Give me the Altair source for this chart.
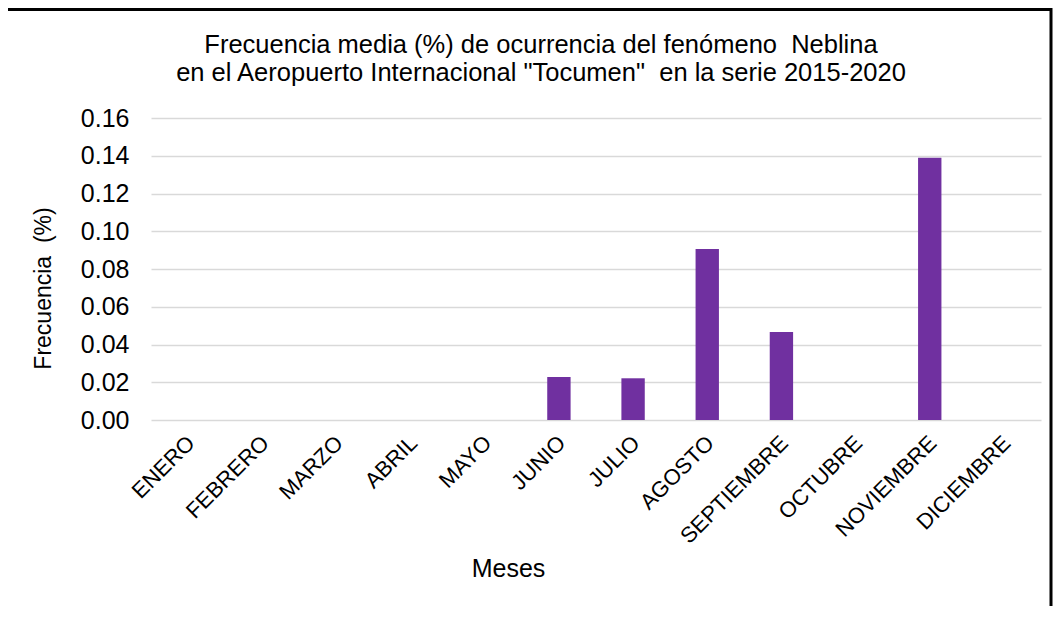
import altair as alt
import pandas as pd

meses = ["ENERO", "FEBRERO", "MARZO", "ABRIL", "MAYO", "JUNIO", "JULIO",
         "AGOSTO", "SEPTIEMBRE", "OCTUBRE", "NOVIEMBRE", "DICIEMBRE"]
frecuencia = [0.0, 0.0, 0.0, 0.0, 0.0, 0.0228, 0.0221, 0.0906, 0.0466, 0.0, 0.1389, 0.0]
y_ticks = [0.0, 0.02, 0.04, 0.06, 0.08, 0.10, 0.12, 0.14, 0.16]
titulo = ["Frecuencia media (%) de ocurrencia del fenómeno\u00a0 Neblina",
          "en el Aeropuerto Internacional \"Tocumen\"\u00a0 en la serie 2015-2020"]

df = pd.DataFrame({"Mes": meses, "Frecuencia": frecuencia})

FONT = "Liberation Sans"

bars = alt.Chart(df).mark_bar(color="#7030A0").encode(
    x=alt.X("Mes:N", sort=meses,
            scale=alt.Scale(paddingInner=0.685, paddingOuter=0.3425),
            axis=alt.Axis(title="Meses", labelAngle=-45, labelFontSize=22,
                          labelFont=FONT, labelColor="#000000", labelPadding=12,
                          labelOffset=-4,
                          titleFont=FONT, titleFontSize=25, titleFontWeight="normal",
                          titleColor="#000000", titleX=357, titleY=148,
                          titleBaseline="middle", titleAlign="center",
                          ticks=False, domain=False, grid=False)),
    y=alt.Y("Frecuencia:Q", scale=alt.Scale(domain=[0, 0.16], nice=False),
            axis=alt.Axis(title="Frecuencia\u00a0 (%)", values=y_ticks, format=".2f",
                          labelFontSize=25, labelFont=FONT, labelColor="#000000",
                          labelPadding=22, tickSize=0, ticks=False, domain=False,
                          gridColor="#d9d9d9", gridWidth=1.5,
                          titleFont=FONT, titleFontSize=23, titleFontWeight="normal",
                          titleColor="#000000", titleX=-108, titleY=170,
                          titleAngle=-90, titleBaseline="middle", titleAlign="center")),
)

title = alt.Chart(pd.DataFrame({"k": [0]})).mark_text(
    text=titulo, font=FONT, fontSize=25.5, color="#000000",
    align="center", baseline="middle", lineHeight=28
).encode(x=alt.value(390), y=alt.value(-73))

frame = alt.Chart(pd.DataFrame({"k": [0]})).mark_rect(
    fillOpacity=0, stroke="#000000", strokeWidth=3
).encode(
    x=alt.value(-146.5), x2=alt.value(900), y=alt.value(-108.5), y2=alt.value(700)
)

chart = alt.layer(bars, title, frame).properties(
    width=890,
    height=302,
    background="#ffffff",
    autosize=alt.AutoSizeParams(type="none"),
    padding={"left": 143, "top": 110, "right": 12, "bottom": 186},
).configure_view(stroke="transparent", strokeWidth=0)

chart.save("out.html", embed_options={"renderer": "svg", "actions": False})
